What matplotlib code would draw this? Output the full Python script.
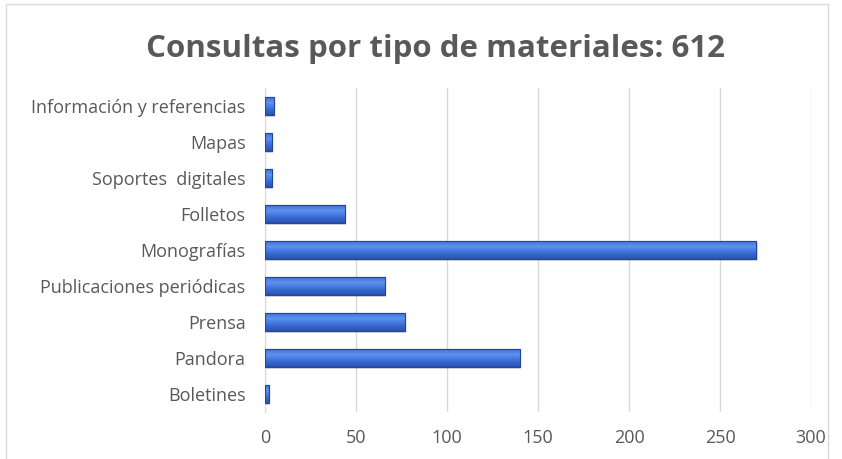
import numpy as np
import matplotlib.pyplot as plt
from matplotlib.colors import LinearSegmentedColormap
from matplotlib.patches import Rectangle

categorias = ["Boletines", "Pandora", "Prensa", "Publicaciones periódicas",
              "Monografías", "Folletos", "Soportes  digitales", "Mapas",
              "Información y referencias"]
consultas = [2, 140, 77, 66, 270, 44, 4, 4, 5]
ticks_x = [0, 50, 100, 150, 200, 250, 300]

plt.rcParams['font.family'] = ['Open Sans', 'DejaVu Sans']
gris = '#595959'

fig = plt.figure(figsize=(8.42, 4.59), dpi=100)
ax = fig.add_axes([0.3147, 0.1024, 0.6485, 0.706])

# marco del grafico
fig.patches.append(Rectangle((6 / 842, -0.01), 822 / 842, 1 - 4 / 459 + 0.01,
                             transform=fig.transFigure, fill=False,
                             edgecolor='#d9d9d9', linewidth=1))

y = np.arange(len(categorias))
# sombra
ax.barh(y - 0.06, consultas, height=0.5, left=0.6, color='#000000', alpha=0.12, zorder=2)
barras = ax.barh(y, consultas, height=0.5, color='#3d6fd6', edgecolor='#23459a',
                 linewidth=0.8, zorder=3)

# degradado en cada barra
cmap = LinearSegmentedColormap.from_list('azul', ['#2a52b0', '#3c6ed6', '#5d92f0', '#3a6bd2'])
grad = np.linspace(0, 1, 64).reshape(-1, 1)
for b in barras:
    x0, y0 = b.get_x(), b.get_y()
    w, h = b.get_width(), b.get_height()
    im = ax.imshow(grad, cmap=cmap, aspect='auto', origin='lower',
                   extent=[x0, x0 + w, y0, y0 + h], zorder=3.5)
    im.set_clip_path(b)
    ax.add_patch(Rectangle((x0, y0), w, h, fill=False, edgecolor='#23459a',
                           linewidth=0.8, zorder=4))

ax.set_xlim(0, 300)
ax.set_ylim(-0.5, len(categorias) - 0.5)
ax.set_xticks(ticks_x)
ax.set_yticks(y)
ax.set_yticklabels(categorias)
ax.tick_params(axis='both', length=0, labelsize=13, colors=gris)
ax.tick_params(axis='x', pad=12)
ax.tick_params(axis='y', pad=14)
ax.grid(axis='x', color='#d9d9d9', linewidth=1, zorder=0)
ax.set_axisbelow(True)
for s in ['top', 'right', 'bottom']:
    ax.spines[s].set_visible(False)
ax.spines['left'].set_color('#d9d9d9')

fig.text(0.517, 0.893, 'Consultas por tipo de materiales: 612', ha='center', va='center',
         fontsize=22.5, fontweight='bold', color=gris)

fig.savefig('out.png', dpi=100)
